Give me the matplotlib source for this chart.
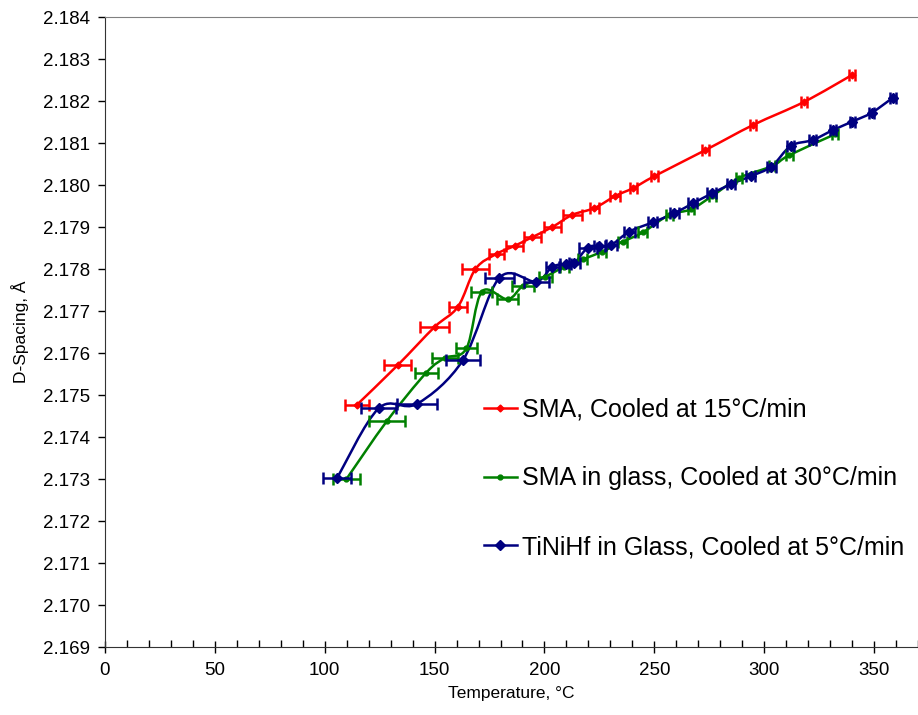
import numpy as np
import matplotlib
matplotlib.use("Agg")
from matplotlib import pyplot as plt
from matplotlib.path import Path
from matplotlib.patches import PathPatch
from matplotlib.lines import Line2D

plt.rcParams['font.family'] = ['Liberation Sans', 'DejaVu Sans']

# SMA, cooled at 15 C/min
red_t = [114.5, 133.2, 150.0, 160.6, 168.6, 178.2, 186.4, 194.5, 203.6, 212.7,
         222.7, 232.3, 240.5, 250.0, 273.2, 295.0, 318.2, 340.0]
red_d = [2.17476, 2.17571, 2.17662, 2.17710, 2.17800, 2.17836, 2.17855, 2.17876, 2.17900, 2.17929,
         2.17945, 2.17974, 2.17993, 2.18021, 2.18083, 2.18143, 2.18198, 2.18262]
red_err = [5.5, 6.2, 6.6, 4.2, 6.3, 3.3, 4.0, 4.0, 3.9, 4.2,
           1.9, 2.3, 1.5, 1.5, 1.5, 1.3, 1.3, 1.3]

# SMA in glass, cooled at 30 C/min
green_t = [109.9, 128.3, 146.2, 154.7, 164.5, 171.5, 183.3, 190.3, 200.4, 209.0, 217.4,
           226.2, 235.6, 244.7, 256.8, 266.7, 276.4, 288.6, 303.6, 311.4, 332.3]
green_d = [2.17300, 2.17438, 2.17553, 2.17588, 2.17611, 2.17746, 2.17728, 2.17760, 2.17782, 2.17805, 2.17823,
           2.17841, 2.17865, 2.17887, 2.17929, 2.17942, 2.17974, 2.18017, 2.18045, 2.18071, 2.18121]
green_err = [6.2, 8.2, 5.3, 6.0, 4.8, 4.8, 4.7, 5.0, 3.0, 2.0, 2.0,
             2.0, 2.0, 2.0, 1.5, 1.5, 1.5, 1.5, 1.5, 1.5, 1.5]

# TiNiHf in glass, cooled at 5 C/min
blue_t = [105.6, 124.5, 142.0, 162.9, 179.5, 196.2, 203.5, 209.8, 213.6, 219.7, 225.0, 230.3, 238.6,
          249.2, 259.1, 267.4, 276.2, 284.9, 293.9, 303.3, 312.1, 322.0, 331.4, 340.1, 348.9, 358.6]
blue_d = [2.17302, 2.17468, 2.17479, 2.17583, 2.17779, 2.17770, 2.17805, 2.17812, 2.17814, 2.17851, 2.17855, 2.17857, 2.17889,
          2.17911, 2.17933, 2.17956, 2.17980, 2.18002, 2.18021, 2.18044, 2.18093, 2.18107, 2.18131, 2.18151, 2.18172, 2.18208]
blue_err = [6.2, 8.0, 9.0, 7.6, 6.5, 5.7, 3.0, 2.5, 2.5, 4.0, 2.5, 2.5, 2.5,
            2.0, 2.0, 2.0, 2.0, 2.0, 2.0, 2.0, 1.5, 1.5, 1.5, 1.2, 1.2, 1.2]

labels = ['SMA, Cooled at 15°C/min',
          'SMA in glass, Cooled at 30°C/min',
          'TiNiHf in Glass, Cooled at 5°C/min']


def smooth_path(x, y):
    # Catmull-Rom style bezier, like a spreadsheet "smoothed line"
    p = np.column_stack([x, y])
    verts = [p[0]]
    codes = [Path.MOVETO]
    n = len(p)
    for i in range(n - 1):
        p0 = p[i - 1] if i > 0 else p[i]
        p3 = p[i + 2] if i + 2 < n else p[i + 1]
        c1 = p[i] + (p[i + 1] - p0) / 6.0
        c2 = p[i + 1] - (p3 - p[i]) / 6.0
        verts += [c1, c2, p[i + 1]]
        codes += [Path.CURVE4] * 3
    return Path(verts, codes)


fig = plt.figure(figsize=(9.18, 7.15), dpi=100)
ax = fig.add_axes([105/918, 1 - 647/715, 1 - 105/918, (647 - 17)/715])

series = [
    (red_t, red_d, red_err, '#FF0000', 'D', 3.5),
    (green_t, green_d, green_err, '#008000', 'o', 3.5),
    (blue_t, blue_d, blue_err, '#000080', 'D', 5.5),
]
handles = []
for (t, d, e, c, m, ms), lab in zip(series, labels):
    ax.add_patch(PathPatch(smooth_path(t, d), facecolor='none', edgecolor=c, lw=1.8))
    ax.errorbar(t, d, xerr=e, fmt='none', ecolor=c, elinewidth=1.8, capsize=4, capthick=1.8)
    ax.plot(t, d, ls='none', marker=m, ms=ms, color=c)
    handles.append(Line2D([], [], color=c, lw=1.8, marker=m, ms=ms))

ax.set_xlim(0, (918 - 105) / 2.2)
ax.set_ylim(2.169, 2.184)
ax.set_xticks(np.arange(0, 351, 50))
ax.set_xticks(np.arange(0, 371, 10), minor=True)
ax.set_yticks(np.arange(2.169, 2.18401, 0.001))
ax.yaxis.set_major_formatter(matplotlib.ticker.FormatStrFormatter('%.3f'))

ax.tick_params(axis='x', which='major', direction='inout', length=9, width=1, labelsize=13.5, pad=6)
ax.tick_params(axis='x', which='minor', direction='in', length=5, width=1)
ax.tick_params(axis='y', which='major', direction='out', length=5, width=1, labelsize=13.5, pad=6)

ax.spines['right'].set_visible(False)
ax.spines['top'].set_color('#808080')
ax.spines['left'].set_color('#333333')
ax.spines['bottom'].set_color('#333333')

ax.set_xlabel('Temperature, °C', fontsize=12.5, labelpad=5)
ax.set_ylabel('D-Spacing, Å', fontsize=12.5, labelpad=10)

fig.legend(handles, labels, loc='upper left', bbox_to_anchor=(484/918, 1 - 398/715),
           frameon=False, fontsize=18, handlelength=1.3, handletextpad=0.2,
           labelspacing=1.78, borderpad=0, borderaxespad=0)

fig.savefig('out.png', dpi=100)
